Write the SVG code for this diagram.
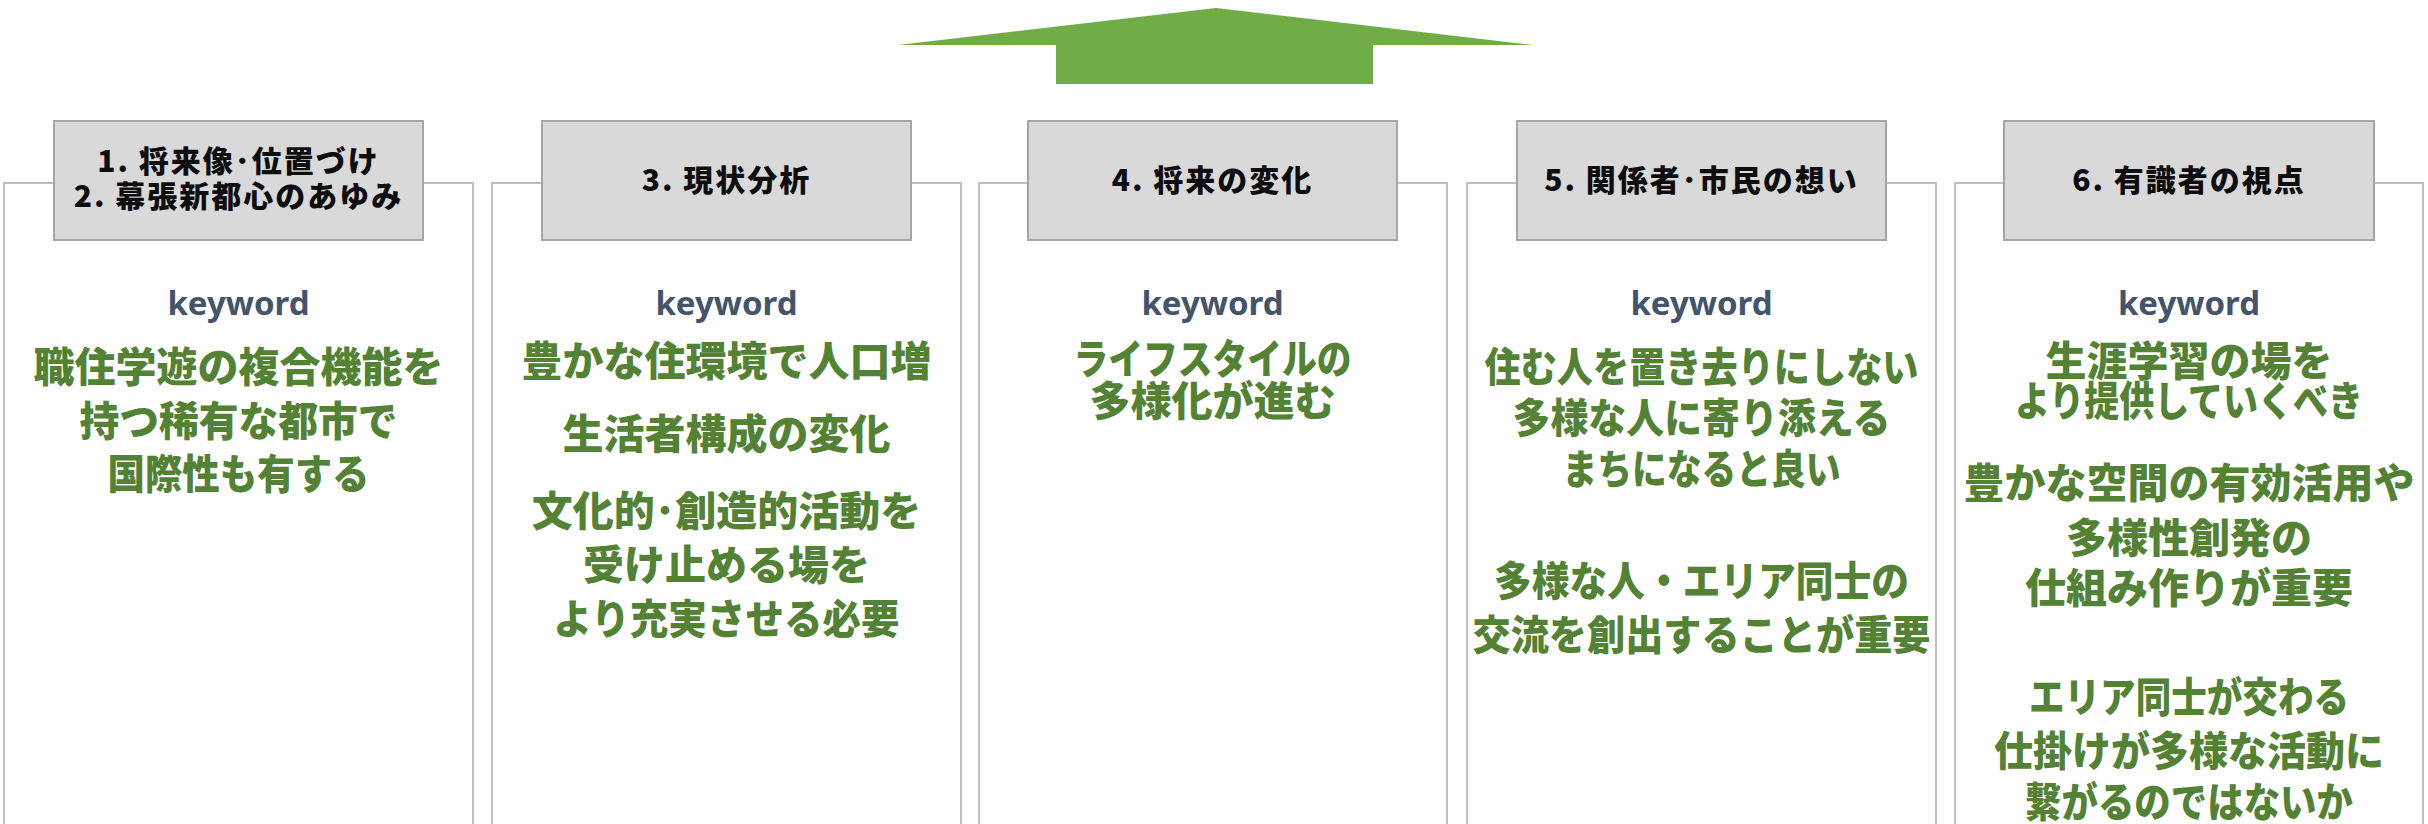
<svg xmlns="http://www.w3.org/2000/svg" width="2428" height="824" viewBox="0 0 2428 824">
<defs>
<style>
.panel{fill:#ffffff;stroke:#bfbfbf;stroke-width:2}
.hdr{fill:#d9d9d9;stroke:#a6a6a6;stroke-width:2}
.ht{font-family:"Noto Sans CJK JP","Noto Sans",sans-serif;font-weight:900;font-size:30px;letter-spacing:2px;fill:#0d0d0d;text-anchor:middle}
.kw{font-family:"Noto Sans","Open Sans",sans-serif;font-weight:700;font-size:33px;fill:#44546a;text-anchor:middle}
.gt{font-family:"Noto Sans CJK JP",sans-serif;font-weight:900;font-size:41px;fill:#548235;text-anchor:middle}
</style>
</defs>
<rect width="2428" height="824" fill="#ffffff"/>
<g id="connectors">
<polygon points="1216,8 1533,45 1373,45 1373,84 1056,84 1056,45 898,45" fill="#70ad47"/>
</g>
<g id="panel1">
<rect class="panel" x="4" y="183" width="469" height="700"/>
<rect class="hdr" x="54" y="121" width="369" height="119"/>
<text class="ht" x="238.5" y="172">1. 将来像･位置づけ</text>
<text class="ht" x="238.5" y="207">2. 幕張新都心のあゆみ</text>
<text class="kw" x="238.5" y="315">keyword</text>
<text class="gt" x="238.5" y="382">職住学遊の複合機能を</text>
<text class="gt" x="238.5" y="436" textLength="318" lengthAdjust="spacingAndGlyphs">持つ稀有な都市で</text>
<text class="gt" x="238.5" y="489" textLength="262" lengthAdjust="spacingAndGlyphs">国際性も有する</text>
</g>
<g id="panel2">
<rect class="panel" x="492" y="183" width="469" height="700"/>
<rect class="hdr" x="542" y="121" width="369" height="119"/>
<text class="ht" x="726.5" y="191">3. 現状分析</text>
<text class="kw" x="726.5" y="315">keyword</text>
<text class="gt" x="726.5" y="376">豊かな住環境で人口増</text>
<text class="gt" x="726.5" y="449">生活者構成の変化</text>
<text class="gt" x="726.5" y="526">文化的･創造的活動を</text>
<text class="gt" x="726.5" y="580">受け止める場を</text>
<text class="gt" x="726.5" y="634" textLength="346" lengthAdjust="spacingAndGlyphs">より充実させる必要</text>
</g>
<g id="panel3">
<rect class="panel" x="979" y="183" width="468" height="700"/>
<rect class="hdr" x="1028" y="121" width="369" height="119"/>
<text class="ht" x="1212.5" y="191">4. 将来の変化</text>
<text class="kw" x="1212.5" y="315">keyword</text>
<text class="gt" x="1212.5" y="374" textLength="278" lengthAdjust="spacingAndGlyphs">ライフスタイルの</text>
<text class="gt" x="1212.5" y="416">多様化が進む</text>
</g>
<g id="panel4">
<rect class="panel" x="1467" y="183" width="469" height="700"/>
<rect class="hdr" x="1517" y="121" width="369" height="119"/>
<text class="ht" x="1701.5" y="191">5. 関係者･市民の想い</text>
<text class="kw" x="1701.5" y="315">keyword</text>
<text class="gt" x="1701.5" y="382" textLength="434" lengthAdjust="spacingAndGlyphs">住む人を置き去りにしない</text>
<text class="gt" x="1701.5" y="433" textLength="378" lengthAdjust="spacingAndGlyphs">多様な人に寄り添える</text>
<text class="gt" x="1701.5" y="484" textLength="278" lengthAdjust="spacingAndGlyphs">まちになると良い</text>
<text class="gt" x="1701.5" y="596" textLength="415" lengthAdjust="spacingAndGlyphs">多様な人・エリア同士の</text>
<text class="gt" x="1701.5" y="650" textLength="458" lengthAdjust="spacingAndGlyphs">交流を創出することが重要</text>
</g>
<g id="panel5">
<rect class="panel" x="1955" y="183" width="468" height="700"/>
<rect class="hdr" x="2004" y="121" width="370" height="119"/>
<text class="ht" x="2189" y="191">6. 有識者の視点</text>
<text class="kw" x="2189" y="315">keyword</text>
<text class="gt" x="2189" y="376">生涯学習の場を</text>
<text class="gt" x="2189" y="416" textLength="348" lengthAdjust="spacingAndGlyphs">より提供していくべき</text>
<text class="gt" x="2189" y="498">豊かな空間の有効活用や</text>
<text class="gt" x="2189" y="553">多様性創発の</text>
<text class="gt" x="2189" y="603">仕組み作りが重要</text>
<text class="gt" x="2189" y="712" textLength="320" lengthAdjust="spacingAndGlyphs">エリア同士が交わる</text>
<text class="gt" x="2189" y="766" textLength="390" lengthAdjust="spacingAndGlyphs">仕掛けが多様な活動に</text>
<text class="gt" x="2189" y="817" textLength="328" lengthAdjust="spacingAndGlyphs">繋がるのではないか</text>
</g>
</svg>
